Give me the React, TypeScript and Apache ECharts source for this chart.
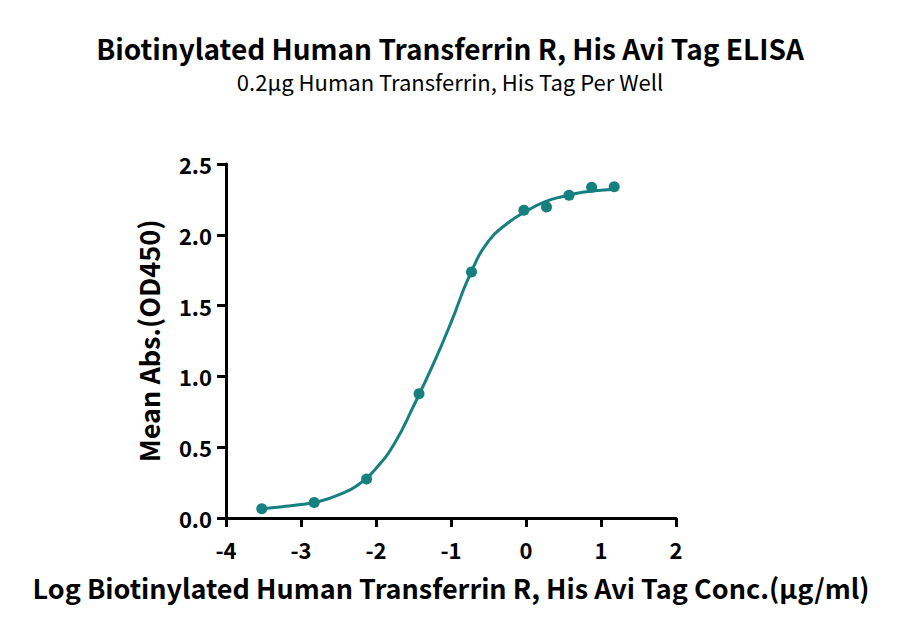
import { useEffect, useRef } from 'react'
import * as echarts from 'echarts'

const TITLE = 'Biotinylated Human Transferrin R, His Avi Tag ELISA'
const SUBTITLE = '0.2μg Human Transferrin, His Tag Per Well'
const X_NAME = 'Log Biotinylated Human Transferrin R, His Avi Tag Conc.(μg/ml)'
const Y_NAME = 'Mean Abs.(OD450)'

const TEAL = '#167f80'
const FONT = "'Noto Sans CJK SC', 'Noto Sans', sans-serif"

// measured points: log10 conc vs mean OD450
const pointX = [-3.523, -2.824, -2.125, -1.426, -0.727, -0.028, 0.273, 0.574, 0.875, 1.176]
const pointY = [0.066, 0.109, 0.276, 0.877, 1.737, 2.174, 2.197, 2.28, 2.336, 2.34]

// fitted curve, every quarter log unit
const curveX = [-3.52, -3.25, -3.0, -2.75, -2.5, -2.25, -2.0, -1.75, -1.5, -1.25, -1.0, -0.75, -0.5, -0.25, 0.0, 0.25, 0.5, 0.75, 1.0, 1.18]
const curveY = [0.066, 0.08, 0.095, 0.118, 0.163, 0.23, 0.35, 0.53, 0.79, 1.07, 1.38, 1.715, 1.955, 2.08, 2.165, 2.232, 2.272, 2.3, 2.315, 2.322]

export default function App() {
  const ref = useRef<HTMLDivElement>(null)

  useEffect(() => {
    const el = ref.current
    if (!el) return
    const chart = echarts.init(el, null, { renderer: 'svg' })

    const axisLine = { show: true, onZero: false, lineStyle: { color: '#000', width: 3 } }
    const axisTick = { show: true, length: 9, lineStyle: { color: '#000', width: 3 } }
    const nameStyle = { fontFamily: FONT, fontSize: 27, fontWeight: 'bold', color: '#000' }
    const tickStyle = { fontFamily: FONT, fontSize: 22, fontWeight: 'bold', color: '#000' }

    chart.setOption({
      animation: false,
      textStyle: { fontFamily: FONT },
      title: {
        text: TITLE,
        subtext: SUBTITLE,
        left: 'center',
        top: 29,
        itemGap: 8,
        textStyle: { fontFamily: FONT, fontSize: 28, fontWeight: 'bold', color: '#000' },
        subtextStyle: { fontFamily: FONT, fontSize: 22, color: '#000' },
      },
      grid: { left: 226, right: 224, top: 164, bottom: 117 },
      xAxis: {
        type: 'value',
        min: -4,
        max: 2,
        interval: 1,
        name: X_NAME,
        nameLocation: 'middle',
        nameGap: 56,
        nameTextStyle: nameStyle,
        axisLine,
        axisTick,
        splitLine: { show: false },
        axisLabel: { ...tickStyle, margin: 20 },
      },
      yAxis: {
        type: 'value',
        min: 0,
        max: 2.5,
        interval: 0.5,
        name: Y_NAME,
        nameLocation: 'middle',
        nameGap: 64,
        nameTextStyle: nameStyle,
        axisLine,
        axisTick,
        splitLine: { show: false },
        axisLabel: { ...tickStyle, margin: 14, formatter: (v: number) => v.toFixed(1) },
      },
      series: [
        {
          type: 'line',
          data: curveX.map((x, i) => [x, curveY[i]]),
          smooth: 0.5,
          showSymbol: false,
          lineStyle: { color: TEAL, width: 3 },
          z: 2,
        },
        {
          type: 'scatter',
          data: pointX.map((x, i) => [x, pointY[i]]),
          symbolSize: 11,
          itemStyle: { color: TEAL, opacity: 1 },
          z: 3,
        },
      ],
    })

    return () => chart.dispose()
  }, [])

  return <div ref={ref} style={{ width: 900, height: 635, margin: -8 }} />
}
